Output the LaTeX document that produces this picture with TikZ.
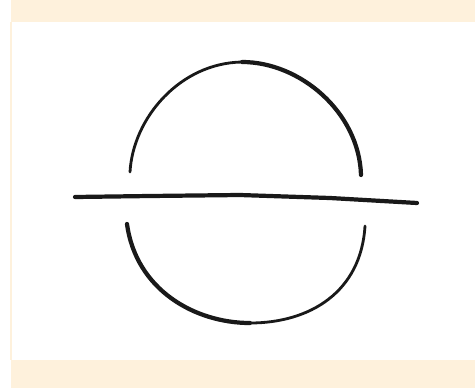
\documentclass[tikz,border=0pt]{standalone}
\usepackage{xcolor}
\usepackage{tikz}
\definecolor{bandbeige}{HTML}{FEF1DC}
\tikzset{
  band/.style={fill=bandbeige, draw=none},
  stroke/.style={draw=black!90, line cap=round, line join=round, line width=2.4pt},
  thinstroke/.style={stroke, line width=1.6pt}
}

\begin{document}
\begin{tikzpicture}[x=0.02cm, y=-0.02cm]
\useasboundingbox (0,0) rectangle (475,388);
% frame bands
\fill[band] (11,0) rectangle (475,22);
\fill[band] (11,360) rectangle (475,388);
\draw[bandbeige, line width=0.6pt] (11,22) -- (11,360);

% upper arc
\coordinate (ul) at (130,172);
\coordinate (ut) at (242,62);
\coordinate (ur) at (361,175);
\draw[thinstroke] (ul) .. controls (133,118) and (180,63) .. (ut);
\draw[stroke] (ut) .. controls (300,62) and (359,112) .. (ur);

% lower arc
\coordinate (ll) at (127,224);
\coordinate (lb) at (250,323);
\coordinate (lr) at (365,226);
\draw[stroke] (ll) .. controls (136,290) and (195,323) .. (lb);
\draw[thinstroke] (lb) .. controls (310,323) and (361,292) .. (lr);

% horizontal line
\coordinate (hl) at (75,197);
\coordinate (hr) at (417,203);
\draw[stroke] (hl) -- (150,196) -- (240,195) -- (330,198) -- (hr);
\end{tikzpicture}
\end{document}
